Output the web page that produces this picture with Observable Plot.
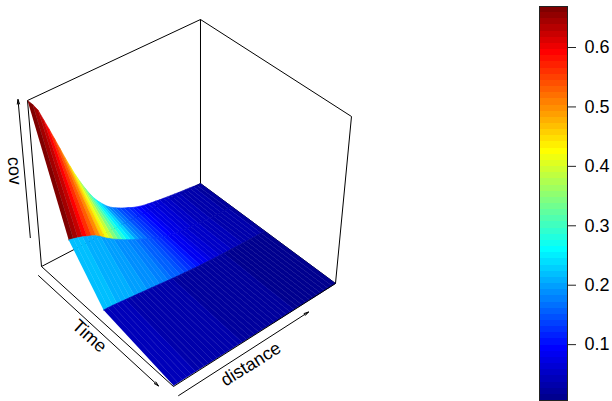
<!DOCTYPE html>
<html><head><meta charset="utf-8">
<style>html,body{margin:0;padding:0;background:#fff}#c{display:flex;width:612px;height:401px;overflow:hidden}svg{display:block;flex:none}</style>
<script src="https://cdn.jsdelivr.net/npm/d3@7"></script>
<script src="https://cdn.jsdelivr.net/npm/@observablehq/plot@0.6"></script>
</head><body><div id="c"></div>
<script>
const fontFamily = "Liberation Sans, Arimo, Helvetica, Arial, sans-serif";
const covRange = [0.006, 0.669];
const colorTicks = [0.1, 0.2, 0.3, 0.4, 0.5, 0.6];
const timeLevels = [0, 0.25, 0.5, 1];
const distanceLevels = [0,.025,.05,.075,.1,.125,.15,.175,.2,.225,.25,.275,.3,.325,.35,.375,.4,.425,.45,.475,.5,.525,.55,.575,.6,.625,.65,.675,.7,.725,.75,.775,.8,.825,.85,.875,.9,.925,.95,.975,1];
// surface height at each time level
const heightTime0 = [.669,.644,.613,.566,.520,.473,.426,.379,.336,.294,.257,.223,.192,.165,.143,.124,.107,.094,.084,.075,.067,.060,.052,.046,.041,.037,.034,.031,.029,.026,.024,.022,.020,.018,.016,.014,.013,.011,.009,.007,.006];
const heightTime1 = [.222,.217,.212,.206,.198,.191,.182,.170,.156,.144,.132,.122,.112,.103,.094,.086,.078,.070,.062,.056,.048,.042,.036,.031,.028,.025,.022,.019,.017,.016,.015,.013,.011,.010,.009,.008,.007,.007,.007,.007,.006];
const heightTime2 = [.059,.058,.057,.055,.053,.051,.049,.047,.045,.043,.041,.039,.037,.035,.033,.031,.029,.027,.025,.024,.022,.021,.019,.018,.017,.016,.015,.014,.013,.012,.011,.011,.010,.009,.009,.008,.008,.007,.007,.006,.006];
const heightTime3 = [.010,.010,.010,.010,.010,.010,.010,.010,.009,.009,.009,.009,.009,.009,.009,.009,.008,.008,.008,.008,.008,.008,.008,.008,.007,.007,.007,.007,.007,.007,.007,.007,.007,.007,.006,.006,.006,.006,.006,.006,.006];
// facet colour value of each strip
const colorTime0 = [.669,.645,.62,.59,.56,.53,.495,.455,.415,.38,.345,.31,.28,.25,.225,.2,.18,.162,.148,.135,.122,.11,.1,.09,.082,.075,.069,.063,.058,.053,.049,.045,.041,.038,.035,.032,.03,.028,.026,.024,.022];
const colorTime1 = [.222,.219,.216,.213,.21,.207,.204,.2,.197,.193,.19,.187,.183,.179,.175,.168,.16,.152,.144,.135,.12,.11,.1,.088,.08,.073,.067,.062,.057,.053,.049,.046,.043,.04,.037,.034,.032,.03,.028,.026,.024];
const colorTime2 = [.042,.041,.04,.039,.038,.037,.036,.035,.034,.033,.032,.031,.03,.029,.028,.027,.026,.025,.024,.023,.023,.022,.021,.02,.02,.019,.018,.018,.017,.016,.016,.015,.015,.014,.014,.013,.013,.012,.012,.011,.011];
const heightRows = [heightTime0, heightTime1, heightTime2, heightTime3];
const colorRows = [colorTime0, colorTime1, colorTime2];

// fields::tim.colors style jet ramp, 64 steps
const jetStops = ["#00008F","#0000FF","#00FFFF","#FFFF00","#FF0000","#800000"];
const jetPos = [0, 8/63, 24/63, 40/63, 56/63, 1];
const jetPiece = d3.scaleLinear().domain(jetPos).range(jetStops).interpolate(d3.interpolateRgb);
const jet = t => jetPiece(Math.min(63, Math.floor(t * 64)) / 63);
const colorOpt = {type:"linear", domain:covRange, interpolate:jet};

// perspective view of the unit box
function project(u, v, w) {
  const D = 1 + 0.09736*u - 0.09965*v;
  const fx = (178.47*u + 114.76*v + 41) / D, fy = (-65.18*u + 81.54*v + 266) / D;
  const mix = (a,d,c,b) => (1-u)*(1-v)*a + u*(1-v)*d + u*v*c + (1-u)*v*b;
  return [fx + w*mix(-14,0,16,2), fy + w*mix(-166,-164,-167,-169)];
}
const W = z => (z - covRange[0]) / (covRange[1] - covRange[0]);

// surface facets, far to near
const facets = [];
for (let k = 0; k < timeLevels.length - 1; k++) {
  for (let i = distanceLevels.length - 2; i >= 0; i--) {
    const cell = k + "-" + i, cov = colorRows[k][i];
    [[i,k],[i+1,k],[i+1,k+1],[i,k+1]].forEach(([a,b]) => {
      const [x,y] = project(distanceLevels[a], timeLevels[b], W(heightRows[b][a]));
      facets.push({cell, cov, x, y});
    });
  }
}
const edge = (a,b) => { const p = project(...a), q = project(...b); return {x1:p[0],y1:p[1],x2:q[0],y2:q[1]}; };
const backEdges = [
  edge([0,0,0],[0,0,1]), edge([0,0,1],[1,0,1]), edge([1,0,1],[1,0,0]),
  edge([1,0,1],[1,1,1]), edge([1,1,1],[1,1,0]), edge([0,0,0],[1,0,0]), edge([1,0,0],[1,1,0])
];
const frontEdges = [edge([0,0,0],[0,1,0]), edge([0,1,0],[1,1,0])];
const axisArrows = [
  edge([-0.035,-0.0202,0.18],[-0.035,-0.0202,1.012]),
  edge([-0.047,0.044,0],[-0.047,0.955,0]),
  edge([-0.016,1.054,0],[0.766,1.054,0])
];
const labelAt = (text,u,v,w,rotate) => { const [x,y] = project(u,v,w); return {text,x,y,rotate}; };
const axisLabels = [
  labelAt("cov",-0.017,-0.135,0.5,86),
  labelAt("Time",-0.098,0.522,0,42),
  labelAt("distance",0.342,1.121,0,-32)
];

const main = Plot.plot({
  width:530, height:401, margin:0,
  x:{domain:[0,530], range:[0,530], axis:null},
  y:{domain:[0,401], range:[0,401], axis:null},
  color:colorOpt,
  style:{fontFamily, background:"#fff", overflow:"visible"},
  marks:[
    Plot.link(backEdges,{x1:"x1",y1:"y1",x2:"x2",y2:"y2",stroke:"#000",strokeWidth:1}),
    Plot.line(facets,{x:"x",y:"y",z:"cell",fill:"cov",stroke:"cov",strokeWidth:0.6}),
    Plot.link(frontEdges,{x1:"x1",y1:"y1",x2:"x2",y2:"y2",stroke:"#000",strokeWidth:1}),
    Plot.arrow(axisArrows,{x1:"x1",y1:"y1",x2:"x2",y2:"y2",stroke:"#000",strokeWidth:1,headLength:7,headAngle:28}),
    ...axisLabels.map(d => Plot.text([d],{x:"x",y:"y",text:"text",rotate:d.rotate,fontSize:18,fill:"#000",textAnchor:"middle",lineAnchor:"middle"}))
  ]
});

const bandEdges = d3.range(65).map(i => covRange[0] + i/64*(covRange[1]-covRange[0]));
const bands = d3.range(64).map(i => ({y1:bandEdges[i], y2:bandEdges[i+1], cov:(bandEdges[i]+bandEdges[i+1])/2}));
const bar = Plot.plot({
  width:82, height:401, marginLeft:9, marginRight:45, marginTop:6, marginBottom:1,
  x:{axis:null},
  y:{domain:covRange, axis:null},
  color:colorOpt,
  style:{fontFamily, background:"#fff"},
  marks:[
    Plot.rectY(bands,{y1:"y1",y2:"y2",fill:"cov",shapeRendering:"crispEdges"}),
    Plot.frame({stroke:"#222",strokeWidth:1}),
    Plot.axisY({anchor:"right",ticks:colorTicks,tickFormat:".1f",tickSize:8,tickPadding:9,fontSize:18,stroke:"#222",fill:"#000"})
  ]
});
const c = document.getElementById("c");
c.append(main, bar);
</script></body></html>
